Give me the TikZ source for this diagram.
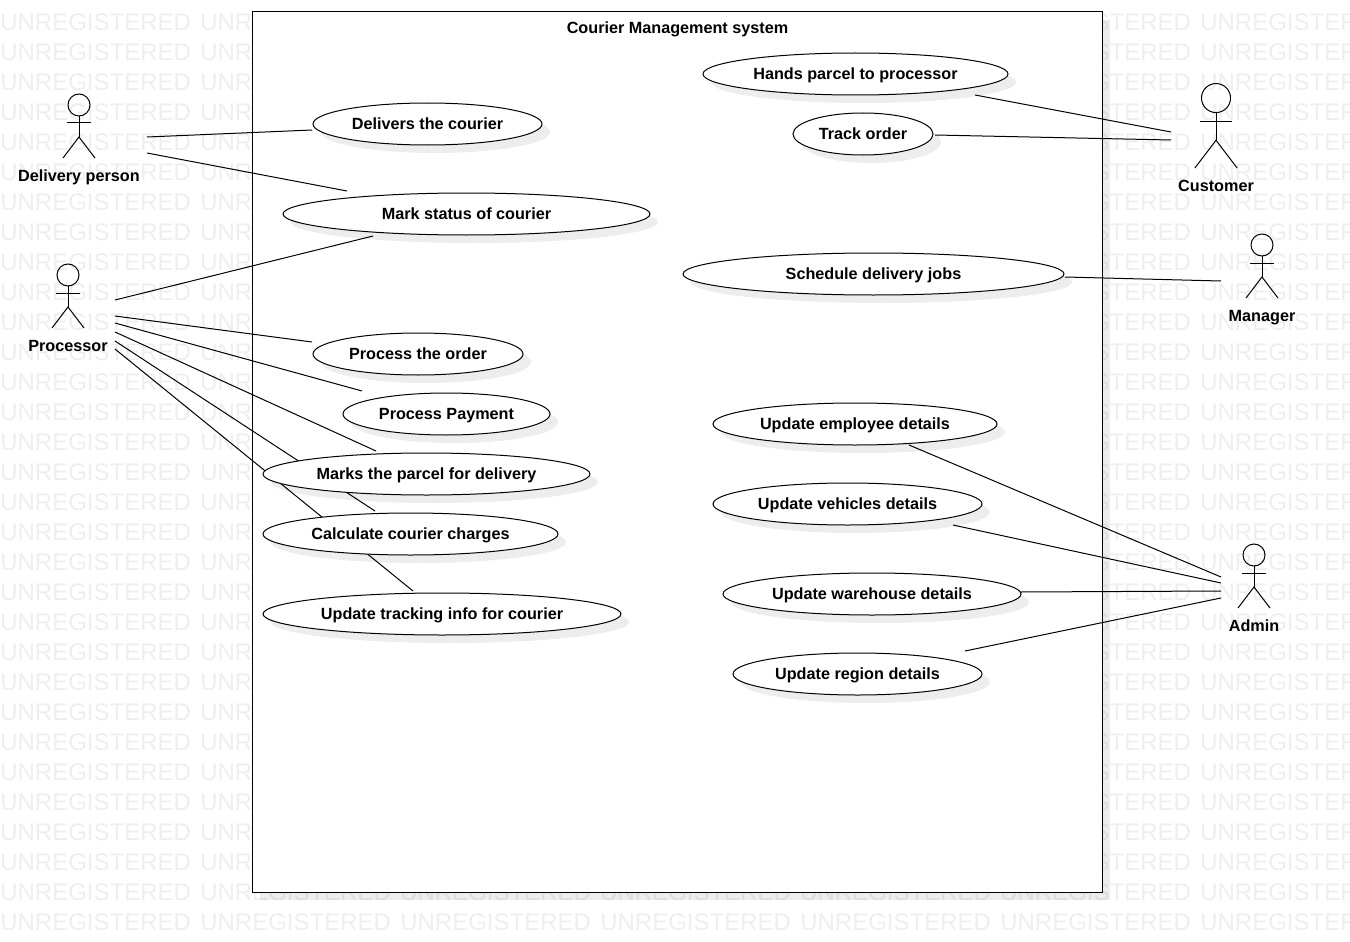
\documentclass[tikz,border=0pt]{standalone}
\usepackage{fontspec}
\setmainfont{Liberation Sans}
\usetikzlibrary{shapes,shadows}
\pgfdeclarelayer{background}
\pgfdeclarelayer{lines}
\pgfsetlayers{background,lines,main}
\definecolor{markgray}{HTML}{EEEEEE}
\tikzstyle{label} = [font=\fontsize{12.15}{14}\selectfont\bfseries, inner sep=0pt, text height=10.1pt, text depth=0pt]
\tikzstyle{usecase} = [ellipse, draw, fill=white, inner sep=0pt, line width=0.75pt, minimum height=31.5pt, font=\fontsize{12.15}{14}\selectfont\bfseries, text height=8.6pt, text depth=0pt, drop shadow={shadow xshift=6pt, shadow yshift=-6pt, opacity=0.07, fill=black}]
\tikzstyle{system} = [rectangle, draw, fill=white, line width=0.75pt, minimum width=637.5pt, minimum height=660pt, drop shadow={shadow xshift=6pt, shadow yshift=-6pt, opacity=0.07, fill=black}]
\tikzstyle{watermark} = [anchor=west, inner sep=0pt, text=markgray, font=\fontsize{18}{22}\selectfont]
\tikzstyle{line} = [draw, line width=0.75pt]
\tikzset{stickman/.pic={
	\draw[line width=0.75pt] (0,-53) circle (11);
	\draw[line width=0.75pt] (0,-42) -- (0,-21);
	\draw[line width=0.75pt] (-12,-35) -- (12,-35);
	\draw[line width=0.75pt] (-16,0) -- (0,-21) -- (16,0);
}}

\begin{document}
\begin{tikzpicture}[x=0.75pt, y=-0.75pt]
		\useasboundingbox (0,0) rectangle (1350,942);

		\begin{pgfonlayer}{background}
			\foreach \r in {0,...,30}
				\foreach \c in {0,...,6}
					\node [watermark] (mark\r-\c) at ({\c*200},{22+\r*30}) {UNREGISTERED};
			\node [system] (system) at (677,452) {};
		\end{pgfonlayer}
		\node [label] (title) at (677.5,27) {Courier Management system};

		% actors on the left
		\node [label] (delivery) at (79,175) {Delivery person};
		\node [label] (processor) at (68,345) {Processor};
		% actors on the right
		\node [label] (customer) at (1216,185) {Customer};
		\node [label] (manager) at (1262,315) {Manager};
		\node [label] (admin) at (1254,625) {Admin};

		\pic at ([shift={(0,-17)}]delivery.center) {stickman};
		\pic at ([shift={(0,-17)}]processor.center) {stickman};
		\pic [scale=1.32] at ([shift={(0,-17)}]customer.center) {stickman};
		\pic at ([shift={(0,-17)}]manager.center) {stickman};
		\pic at ([shift={(0,-17)}]admin.center) {stickman};

		% left use cases
		\node [usecase, minimum width=229*0.75pt] (delivers) at (427.5,124) {Delivers the courier};
		\node [usecase, minimum width=367*0.75pt] (status) at (466.5,214) {Mark status of courier};
		\node [usecase, minimum width=210*0.75pt] (order) at (418,354) {Process the order};
		\node [usecase, minimum width=207*0.75pt] (payment) at (446.5,414) {Process Payment};
		\node [usecase, minimum width=327*0.75pt] (parcel) at (426.5,474) {Marks the parcel for delivery};
		\node [usecase, minimum width=295*0.75pt] (charges) at (410.5,534) {Calculate courier charges};
		\node [usecase, minimum width=358*0.75pt] (tracking) at (442,614) {Update tracking info for courier};
		% right use cases
		\node [usecase, minimum width=305*0.75pt] (hands) at (855.5,74) {Hands parcel to processor};
		\node [usecase, minimum width=140*0.75pt] (track) at (863,134) {Track order};
		\node [usecase, minimum width=381*0.75pt] (schedule) at (873.5,274) {Schedule delivery jobs};
		\node [usecase, minimum width=284*0.75pt] (employee) at (855,424) {Update employee details};
		\node [usecase, minimum width=269*0.75pt] (vehicles) at (847.5,504) {Update vehicles details};
		\node [usecase, minimum width=298*0.75pt] (warehouse) at (872,594) {Update warehouse details};
		\node [usecase, minimum width=249*0.75pt] (region) at (857.5,674) {Update region details};

		\begin{pgfonlayer}{lines}
			\path [line] ([shift={(68,-38)}]delivery.center) -- ([shift={(-115.5,6)}]delivers.center);
			\path [line] ([shift={(68,-22)}]delivery.center) -- ([shift={(-119.5,-23)}]status.center);
			\path [line] ([shift={(47,-45)}]processor.center) -- ([shift={(-93.5,22)}]status.center);
			\path [line] ([shift={(47,-29)}]processor.center) -- ([shift={(-106,-12)}]order.center);
			\path [line] ([shift={(47,-22)}]processor.center) -- ([shift={(-84.5,-23)}]payment.center);
			\path [line] ([shift={(47,-13)}]processor.center) -- ([shift={(-50.5,-23)}]parcel.center);
			\path [line] ([shift={(47,-4)}]processor.center) -- ([shift={(-35.5,-23)}]charges.center);
			\path [line] ([shift={(47,4)}]processor.center) -- ([shift={(-29,-23)}]tracking.center);
			\path [line] ([shift={(-45,-53)}]customer.center) -- ([shift={(119.5,21)}]hands.center);
			\path [line] ([shift={(-45,-45)}]customer.center) -- ([shift={(72,1)}]track.center);
			\path [line] ([shift={(-41,-34)}]manager.center) -- ([shift={(191.5,3)}]schedule.center);
			\path [line] ([shift={(-33,-48)}]admin.center) -- ([shift={(54,21)}]employee.center);
			\path [line] ([shift={(-33,-42)}]admin.center) -- ([shift={(105.5,21)}]vehicles.center);
			\path [line] ([shift={(-33,-34)}]admin.center) -- ([shift={(149,-2)}]warehouse.center);
			\path [line] ([shift={(-33,-27)}]admin.center) -- ([shift={(107.5,-23)}]region.center);
		\end{pgfonlayer}
	\end{tikzpicture}
\end{document}
